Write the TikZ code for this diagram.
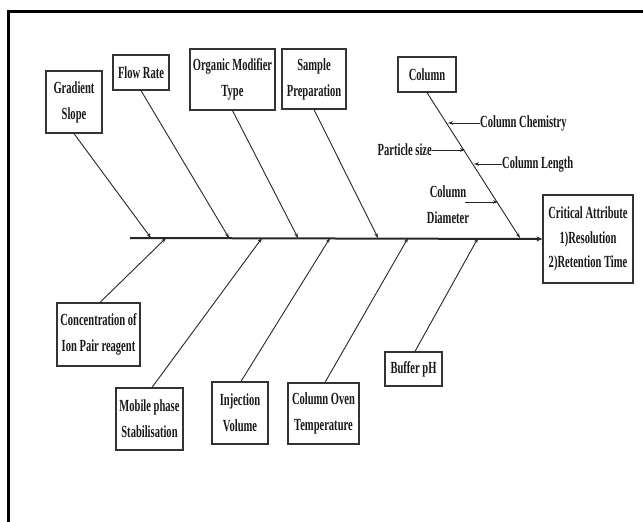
\documentclass[tikz,border=0pt]{standalone}
\usepackage{fontspec}
\setmainfont[FakeStretch=0.62]{Liberation Serif}
\usetikzlibrary{arrows.meta}
\begin{document}
\begin{tikzpicture}[x=1pt,y=-1pt,
  box/.style={draw=black!80, line width=1.2pt, inner sep=0pt, align=center,
    font=\bfseries\fontsize{17}{26}\selectfont, text=black!90},
  lbl/.style={inner sep=0pt, align=center, font=\bfseries\fontsize{17}{26}\selectfont, text=black!90},
  bone/.style={line width=0.9pt, draw=black!85, -{Stealth[length=5pt,width=3.5pt]}},
  spinestyle/.style={line width=2pt, draw=black!85, -{Stealth[length=6pt,width=5pt]}}
]
\useasboundingbox (0,0) rectangle (643,522);
% frame (top and left edges)
\draw[line width=2.5pt] (643,11.5) -- (8.5,11.5) -- (8.5,522);

% spine
\coordinate (s0) at (130,238);
\node[box, minimum width=90pt, minimum height=88pt, font=\bfseries\fontsize{17}{24.5}\selectfont] (crit) at (588,239) {Critical Attribute\\1)Resolution\\2)Retention Time};
\draw[spinestyle] (s0) -- (crit.west);

% top cause boxes
\node[box, minimum width=56pt, minimum height=62pt] (grad) at (74,102) {Gradient\\Slope};
\node[box, minimum width=56pt, minimum height=35pt] (flow) at (141,72.5) {Flow Rate};
\node[box, minimum width=85pt, minimum height=61pt] (org) at (232.5,79.5) {Organic Modifier\\Type};
\node[box, minimum width=64pt, minimum height=60pt] (samp) at (314,79) {Sample\\Preparation};
\node[box, minimum width=58pt, minimum height=35pt] (col) at (427,74.5) {Column};

% bottom cause boxes
\node[box, minimum width=83pt, minimum height=63pt] (conc) at (98.5,334.5) {Concentration of\\Ion Pair reagent};
\node[box, minimum width=67pt, minimum height=62pt] (mob) at (149.5,419) {Mobile phase\\Stabilisation};
\node[box, minimum width=56pt, minimum height=62pt] (inj) at (240,413) {Injection\\Volume};
\node[box, minimum width=71pt, minimum height=61pt] (oven) at (323.5,413.5) {Column Oven\\Temperature};
\node[box, minimum width=57pt, minimum height=34pt] (buf) at (413.5,369) {Buffer pH};

% spine attachment points
\coordinate (t1) at (151,238);
\coordinate (t2) at (229,238);
\coordinate (t3) at (298,238);
\coordinate (t4) at (378,238);
\coordinate (t5) at (520,238);
\coordinate (b1) at (166,238);
\coordinate (b2) at (262,238);
\coordinate (b3) at (330,238);
\coordinate (b4) at (408,238);
\coordinate (b5) at (478,238);

\draw[bone] (grad.south) -- (t1);
\draw[bone] (flow.south) -- (t2);
\draw[bone] (org.south) -- (t3);
\draw[bone] (samp.south) -- (t4);
\draw[bone] (col.south) -- (t5);

\draw[bone] ([xshift=1.5pt]conc.north) -- (b1);
\draw[bone] ([xshift=2.5pt]mob.north) -- (b2);
\draw[bone] ([xshift=1pt]inj.north) -- (b3);
\draw[bone] ([xshift=1.5pt]oven.north) -- (b4);
\draw[bone] ([xshift=1.5pt]buf.north) -- (b5);

% column sub-causes
\node[lbl, anchor=west] (chem) at (480,123) {Column Chemistry};
\node[lbl, anchor=east] (psize) at (432,150) {Particle size};
\node[lbl, anchor=west] (clen) at (502,164) {Column Length};
\node[lbl] (cdia) at (448,205) {Column\\Diameter};
\coordinate (c1) at (448,123);
\coordinate (c2) at (465,150);
\coordinate (c3) at (474,164);
\coordinate (c4) at (498,202);
\coordinate (c4s) at (465,202);
\draw[bone] (chem.west) -- (c1);
\draw[bone] (psize.east) -- (c2);
\draw[bone] (clen.west) -- (c3);
\draw[bone] (c4s) -- (c4);
\end{tikzpicture}
\end{document}
